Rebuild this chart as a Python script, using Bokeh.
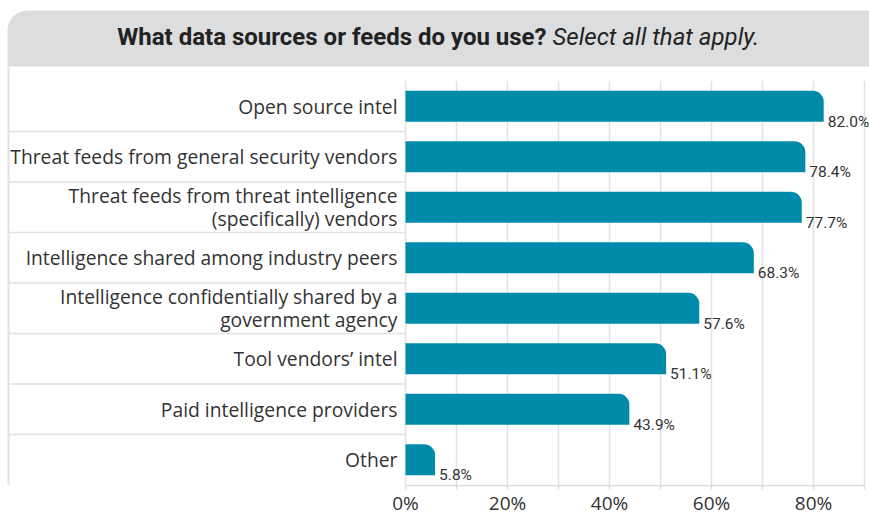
from bokeh.plotting import figure
from bokeh.models import Range1d, FixedTicker, ColumnDataSource
from bokeh.core.properties import value
from bokeh.embed import file_html
from bokeh.resources import INLINE

# ---- data ----
categories = [
    "Open source intel",
    "Threat feeds from general security vendors",
    "Threat feeds from threat intelligence\n(specifically) vendors",
    "Intelligence shared among industry peers",
    "Intelligence confidentially shared by a\ngovernment agency",
    "Tool vendors\u2019 intel",
    "Paid intelligence providers",
    "Other",
]
values = [82.0, 78.4, 77.7, 68.3, 57.6, 51.1, 43.9, 5.8]
tick_values = [0, 20, 40, 60, 80]
tick_labels = ["0%", "20%", "40%", "60%", "80%"]
minor_tick_values = [10, 30, 50, 70, 90]
title_main = "What data sources or feeds do you use?"
title_sub = "Select all that apply."

# ---- layout (page pixels; figure sits at 0,0) ----
W = 869
FH = 485
PX_PER_PCT = 5.1
ZERO_PX = 405
PITCH = 50.5
ROWS_TOP_PX = 80.5
n = len(categories)

x_start = -ZERO_PX / PX_PER_PCT
x_end = (W - ZERO_PX) / PX_PER_PCT
y_end = n + ROWS_TOP_PX / PITCH
y_start = y_end - FH / PITCH


def px_x(px):
    return (px - ZERO_PX) / PX_PER_PCT


def px_y(py):
    return y_end - py / PITCH


centers = [n - i - 0.5 for i in range(n)]
bar_h = 31 / PITCH

p = figure(frame_width=W, frame_height=FH, output_backend="svg", toolbar_location=None,
           x_range=Range1d(x_start, x_end), y_range=Range1d(y_start, y_end),
           min_border=0)
p.outline_line_color = None
p.grid.visible = False
p.yaxis.visible = False
p.background_fill_color = "white"

grid_color = "#e2e2e2"

# banner
p.quad(left=px_x(7), right=x_end, bottom=px_y(66), top=px_y(10),
       fill_color="#dcdddf", line_color=None, border_radius=(20, 0, 0, 0))

# vertical grid
grid_x = sorted(tick_values + minor_tick_values)
p.segment(x0=grid_x, x1=grid_x, y0=[y_start] * len(grid_x), y1=[n] * len(grid_x),
          line_color=grid_color, line_width=1.5)

# left border
p.segment(x0=[px_x(8)], x1=[px_x(8)], y0=[y_start], y1=[px_y(66)],
          line_color=grid_color, line_width=2)

# separators in the label area
sep_y = [float(k) for k in range(1, n)]
p.segment(x0=[px_x(8)] * len(sep_y), x1=[0] * len(sep_y), y0=sep_y, y1=sep_y,
          line_color=grid_color, line_width=1.5)

src = ColumnDataSource(dict(y=centers, v=values, cat=categories,
                            lab=[f"{v:.1f}%" for v in values],
                            ly=[c - bar_h / 2 for c in centers]))

p.hbar(y="y", right="v", left=0, height=bar_h, source=src,
       fill_color="#008BAA", line_color=None, border_radius=(0, 11, 0, 0))

p.text(x=px_x(397), y="y", text="cat", source=src, text_align="right",
       text_baseline="middle", text_font=value("Open Sans"), text_font_size="19.3px",
       text_color="#333333", text_line_height=0.85)

p.text(x="v", y="ly", text="lab", source=src, x_offset=4, y_offset=0,
       text_align="left", text_baseline="alphabetic",
       text_font=value("Roboto"), text_font_size="15.5px", text_color="#333333")

# title
p.text(x=[px_x(546)], y=[px_y(36)], text=[title_main], text_align="right",
       text_baseline="middle", text_font=value("Roboto"), text_font_style="bold",
       text_font_size="24px", text_color="#222222")
p.text(x=[px_x(552)], y=[px_y(36)], text=[title_sub], text_align="left",
       text_baseline="middle", text_font=value("Roboto"), text_font_style="italic",
       text_font_size="24px", text_color="#222222")

# axis
ax = p.xaxis[0]
ax.ticker = FixedTicker(ticks=tick_values, minor_ticks=minor_tick_values)
ax.major_label_overrides = {t: l for t, l in zip(tick_values, tick_labels)}
ax.bounds = (0, 90)
ax.axis_line_color = "#dddddd"
ax.axis_line_width = 1.5
ax.major_tick_line_color = "#dddddd"
ax.minor_tick_line_color = "#dddddd"
ax.major_tick_line_width = 1.5
ax.minor_tick_line_width = 1.5
ax.major_tick_in = 0
ax.major_tick_out = 4
ax.minor_tick_in = 0
ax.minor_tick_out = 4
ax.major_label_standoff = 0
ax.major_label_text_line_height = 0.8
ax.major_label_text_font = "Open Sans"
ax.major_label_text_font_size = "19px"
ax.major_label_text_color = "#333333"

open("out.html", "w").write(file_html(p, INLINE))
